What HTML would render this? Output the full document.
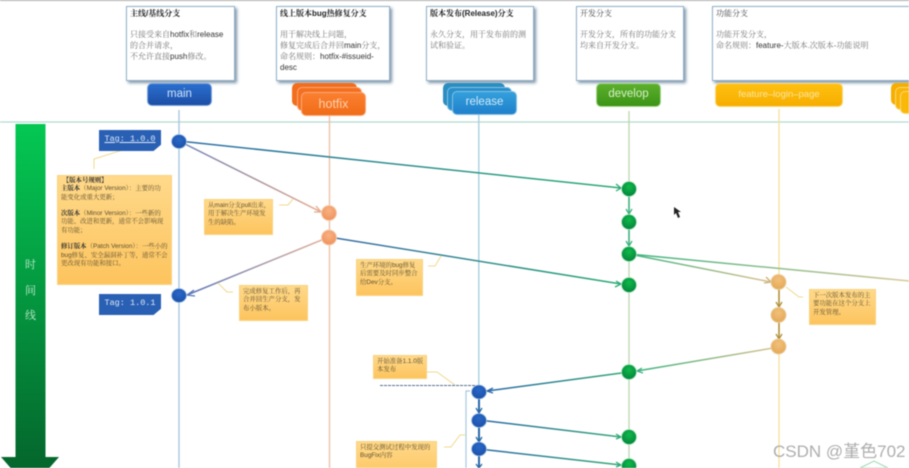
<!DOCTYPE html>
<html><head><meta charset="utf-8">
<style>
html,body{margin:0;padding:0;background:#fff;}
#w{position:relative;width:909px;height:468px;overflow:hidden;background:#fff;font-family:"Liberation Sans","Noto Serif CJK SC",serif;filter:blur(.45px);}
svg{position:absolute;left:0;top:0;}
.box{position:absolute;box-sizing:border-box;top:6px;height:75px;background:#fff;border:1px solid #8fb0c8;box-shadow:2px 2px 3px #7f95a8;padding:2px 3px;font-size:8px;line-height:10.7px;color:#777;white-space:nowrap;overflow:hidden;}
.box b{color:#222;font-weight:700;}
.box span{color:#333;font-family:"Liberation Sans",sans-serif;}
.note{position:absolute;box-sizing:border-box;background:linear-gradient(#ffd98a,#fdc45e);border:1px solid #fbd27e;font-size:6.4px;line-height:8.3px;color:#5f5030;padding:2px 3px;white-space:nowrap;overflow:hidden;}
.note i{font-style:normal;font-family:"Liberation Sans",sans-serif;}
.btn{position:absolute;box-sizing:border-box;border-radius:5px;text-align:center;font-family:"Liberation Sans",sans-serif;}
.tag{position:absolute;left:99px;width:62px;height:21px;background:#2a60b4;color:#dfe9f8;font:8.5px/19px "Liberation Mono",monospace;text-align:center;clip-path:polygon(0 0,100% 0,100% 70%,88% 100%,0 100%);}
.t{position:absolute;left:15px;width:31px;text-align:center;color:#bfeccd;font-size:11px;line-height:12px;}
</style></head><body><div id="w">
<div style="position:absolute;left:0;top:0;width:909px;height:1px;background:#aaa"></div>
<svg width="909" height="468" viewBox="0 0 909 468">
<defs>
<linearGradient id="tl" x1="0" y1="0" x2="0" y2="1"><stop offset="0" stop-color="#04c853"/><stop offset="1" stop-color="#04602a"/></linearGradient>
<radialGradient id="gn" cx=".5" cy=".35" r=".7"><stop offset="0" stop-color="#0fb94a"/><stop offset="1" stop-color="#03803a"/></radialGradient>
<radialGradient id="bl" cx=".5" cy=".35" r=".7"><stop offset="0" stop-color="#2a68c8"/><stop offset="1" stop-color="#1a4fa6"/></radialGradient>
<radialGradient id="or" cx=".5" cy=".35" r=".7"><stop offset="0" stop-color="#f9b183"/><stop offset="1" stop-color="#ee8f58"/></radialGradient>
<radialGradient id="ye" cx=".5" cy=".35" r=".7"><stop offset="0" stop-color="#f2c07a"/><stop offset="1" stop-color="#e3a653"/></radialGradient>
<linearGradient id="c1" gradientUnits="userSpaceOnUse" x1="179" y1="141" x2="621" y2="188"><stop offset="0" stop-color="#2f6fa8"/><stop offset="1" stop-color="#2cab75"/></linearGradient>
<linearGradient id="c2" gradientUnits="userSpaceOnUse" x1="179" y1="141" x2="321" y2="212"><stop offset="0" stop-color="#6a82b8"/><stop offset="1" stop-color="#e5a98c"/></linearGradient>
<linearGradient id="c3" gradientUnits="userSpaceOnUse" x1="329" y1="237" x2="187" y2="295"><stop offset="0" stop-color="#e8b59c"/><stop offset="1" stop-color="#5a78b8"/></linearGradient>
<linearGradient id="c4" gradientUnits="userSpaceOnUse" x1="329" y1="237" x2="621" y2="284"><stop offset="0" stop-color="#3a6ca8"/><stop offset="1" stop-color="#2cab75"/></linearGradient>
<linearGradient id="c5" gradientUnits="userSpaceOnUse" x1="629" y1="254" x2="771" y2="282"><stop offset="0" stop-color="#3cb37f"/><stop offset="1" stop-color="#dcc28f"/></linearGradient>
<linearGradient id="c6" gradientUnits="userSpaceOnUse" x1="629" y1="254" x2="909" y2="281"><stop offset="0" stop-color="#3cb37f"/><stop offset="1" stop-color="#d9c99a"/></linearGradient>
<linearGradient id="c7" gradientUnits="userSpaceOnUse" x1="779" y1="347" x2="637" y2="371"><stop offset="0" stop-color="#dcc28f"/><stop offset="1" stop-color="#3cb37f"/></linearGradient>
<linearGradient id="c8" gradientUnits="userSpaceOnUse" x1="629" y1="372" x2="487" y2="391"><stop offset="0" stop-color="#34a878"/><stop offset="1" stop-color="#2a68a8"/></linearGradient>
<linearGradient id="c9" gradientUnits="userSpaceOnUse" x1="479" y1="420" x2="621" y2="437"><stop offset="0" stop-color="#2a68a8"/><stop offset="1" stop-color="#34a878"/></linearGradient>
</defs>
<line x1="0" y1="122" x2="909" y2="122" stroke="#b4d8d0" stroke-width="1.2"/>
<!-- vertical lanes -->
<line x1="179" y1="110" x2="179" y2="468" stroke="#a9c8de" stroke-width="1.4"/>
<line x1="329.5" y1="115" x2="329.5" y2="468" stroke="#ebc2aa" stroke-width="1.4"/>
<line x1="478.8" y1="114" x2="478.8" y2="392" stroke="#a9cfe2" stroke-width="1.4"/>
<line x1="629" y1="111" x2="629" y2="468" stroke="#bcd8b4" stroke-width="1.4"/>
<line x1="779" y1="109" x2="779" y2="468" stroke="#f5e3a0" stroke-width="1.4"/>
<!-- timeline arrow -->
<polygon points="15.5,124 45.5,124 45.5,457 59,457 30,490 1,457 15.5,457" fill="url(#tl)"/>
<!-- connectors -->
<g fill="none" stroke-width="1.5">
<line x1="179" y1="141" x2="621" y2="188" stroke="url(#c1)"/>
<line x1="179" y1="141" x2="321" y2="212" stroke="url(#c2)"/>
<line x1="329" y1="237" x2="187" y2="295" stroke="url(#c3)"/>
<line x1="329" y1="237" x2="621" y2="284" stroke="url(#c4)"/>
<line x1="629" y1="254" x2="771" y2="282" stroke="url(#c5)"/>
<line x1="629" y1="254" x2="909" y2="281" stroke="url(#c6)"/>
<line x1="779" y1="347" x2="637" y2="371" stroke="url(#c7)"/>
<line x1="629" y1="372" x2="487" y2="391" stroke="url(#c8)"/>
<line x1="479" y1="420" x2="621" y2="437" stroke="url(#c9)"/>
<line x1="479" y1="449" x2="621" y2="465" stroke="url(#c9)"/>
<line x1="629" y1="189" x2="629" y2="254" stroke="#3cb37f"/>
<line x1="779" y1="282" x2="779" y2="347" stroke="#b08d3a"/>
<line x1="479" y1="392" x2="479" y2="468" stroke="#2a6aa8" stroke-width="2"/>
</g>
<!-- arrowheads -->
<g fill="none" stroke-width="1.3">
<polyline points="616,184 621,188 616,191" stroke="#2cab75"/>
<polyline points="316,206 321,212 314,212" stroke="#e5a98c"/>
<polyline points="194,290 187,295 195,296" stroke="#5a78b8"/>
<polyline points="616,281 621,284 615,287" stroke="#2cab75"/>
<polyline points="766,277 771,282 764,283" stroke="#c8b078"/>
<polyline points="642,368 637,371 643,373" stroke="#3cb37f"/>
<polyline points="493,388 487,391 493,393" stroke="#2a68a8"/>
<polyline points="616,434 621,437 616,439" stroke="#34a878"/>
<polyline points="616,462 621,465 616,467" stroke="#34a878"/>
<polyline points="626,209 629,214 632,209" stroke="#3cb37f"/>
<polyline points="626,241 629,246 632,241" stroke="#3cb37f"/>
<polyline points="776,302 779,307 782,302" stroke="#b08d3a"/>
<polyline points="776,334 779,339 782,334" stroke="#b08d3a"/>
<polyline points="476,408 479,413 482,408" stroke="#2a6aa8"/>
<polyline points="476,437 479,442 482,437" stroke="#2a6aa8"/>
<polyline points="476,464 479,468 482,464" stroke="#2a6aa8"/>
</g>
<!-- callouts -->
<g fill="none" stroke="#f0d98f" stroke-width="1">
<polyline points="142,144 94,159 94,169"/>
<polyline points="279,205 288,205 293,199"/>
<polyline points="218,283 227,292 233,292"/>
<polyline points="428,266 435,266 441,256"/>
<polyline points="427,372 437,372 455,385"/>
<polyline points="786,287 799,297 803,297"/>
<polyline points="444,447 451,447 460,435 465,435"/>
</g>
<line x1="380" y1="385.5" x2="475" y2="385.5" stroke="#54708c" stroke-width="1" stroke-dasharray="3 1"/>
<polyline points="470,391 466,391 466,468" fill="none" stroke="#a9c8de" stroke-width="1.2"/>
<!-- nodes -->
<g fill="url(#bl)" stroke="#a8c4e4" stroke-width=".8">
<ellipse cx="179" cy="141.5" rx="7.5" ry="7"/><ellipse cx="179" cy="295.5" rx="7.5" ry="7"/>
<ellipse cx="479" cy="392" rx="7.5" ry="7"/><ellipse cx="479" cy="420.5" rx="7.5" ry="7"/><ellipse cx="479" cy="449" rx="7.5" ry="7"/>
</g>
<g fill="url(#or)" stroke="#f6cdb0" stroke-width="1">
<circle cx="329" cy="213" r="7.5"/><circle cx="329" cy="237.5" r="7.5"/>
</g>
<g fill="url(#gn)" stroke="#b4e6c4" stroke-width=".8">
<circle cx="629" cy="189" r="7.5"/><circle cx="629" cy="222" r="7.5"/><circle cx="629" cy="254" r="7.5"/><circle cx="629" cy="285" r="7.5"/><circle cx="629" cy="372" r="7.5"/><circle cx="629" cy="437" r="7.5"/><circle cx="629" cy="466" r="7.5"/>
</g>
<g fill="url(#ye)" stroke="#e8cfa0" stroke-width="1">
<circle cx="778.5" cy="282" r="7.5"/><circle cx="778.5" cy="315" r="7.5"/><circle cx="778.5" cy="346.5" r="7.5"/>
</g>
<!-- cursor -->
<polygon points="674,207 674,215 676,213 678,218 680,217 678,212 681,212" fill="#222"/>
<!-- right edge diamond -->
<polygon points="860,468 874,461 888,468" fill="none" stroke="#9fd8b4" stroke-width="1"/>
</svg>

<div class="t" style="top:259px">时</div>
<div class="t" style="top:285px">间</div>
<div class="t" style="top:310px">线</div>

<div class="box" style="left:126px;width:109px"><b>主线/基线分支</b><br><br>只接受来自<span>hotfix</span>和<span>release</span><br>的合并请求，<br>不允许直接<span>push</span>修改。</div>
<div class="box" style="left:276px;width:114px"><b>线上版本bug热修复分支</b><br><br>用于解决线上问题，<br>修复完成后合并回<span>main</span>分支，<br>命名规则：<span>hotfix-#issueid-</span><br><span>desc</span></div>
<div class="box" style="left:426px;width:108px"><b>版本发布(Release)分支</b><br><br>永久分支，用于发布前的测<br>试和验证。</div>
<div class="box" style="left:576px;width:108px"><b style="font-weight:400;color:#444">开发分支</b><br><br>开发分支，所有的功能分支<br>均来自开发分支。</div>
<div class="box" style="left:712px;width:220px"><b style="font-weight:400;color:#444">功能分支</b><br><br>功能开发分支，<br>命名规则：<span>feature-</span>大版本.次版本-功能说明</div>

<div class="btn" style="left:147px;top:83px;width:65px;height:23px;background:linear-gradient(#2a6fd0,#1c4ea6);border:1px solid #7ea6dc;color:#cfe2f8;font-size:11.5px;line-height:20px">main</div>

<div class="btn" style="left:292px;top:83px;width:65px;height:23px;background:#f26d1c"></div>
<div class="btn" style="left:297px;top:87px;width:65px;height:24px;background:#f47020;border:1px solid #f9a878"></div>
<div class="btn" style="left:301px;top:92px;width:65px;height:24px;background:linear-gradient(#fb8030,#f06c18);border:1px solid #f9a878;color:#fbd0ac;font-size:12.5px;line-height:22px">hotfix</div>

<div class="btn" style="left:443px;top:83px;width:62px;height:23px;background:#2a8ec0"></div>
<div class="btn" style="left:447px;top:87px;width:65px;height:24px;background:#2a90cc;border:1px solid #84c0e4"></div>
<div class="btn" style="left:452px;top:91px;width:65px;height:24px;background:linear-gradient(#34a0dc,#2080cc);border:1px solid #84c0e4;color:#cfeaf8;font-size:11.5px;line-height:21px">release</div>

<div class="btn" style="left:596px;top:83px;width:65px;height:24px;background:linear-gradient(#5cb02c,#3c9416);border:1px solid #a8d890;color:#d8f0c8;font-size:11.5px;line-height:21px">develop</div>

<div class="btn" style="left:715px;top:83px;width:128px;height:24px;background:linear-gradient(#ffc010,#f6ae00);border:1px solid #fbd878;color:#fce6a0;font-size:9.5px;line-height:22px">feature–login–page</div>

<div class="btn" style="left:891px;top:83px;width:40px;height:22px;background:#f6ae00"></div>
<div class="btn" style="left:895px;top:87px;width:40px;height:23px;background:#f8b408;border:1px solid #fbd878"></div>
<div class="btn" style="left:900px;top:91px;width:40px;height:23px;background:#fab808;border:1px solid #fbd878"></div>

<div class="tag" style="top:130px"><span style="text-decoration:underline">Tag: 1.0.0</span></div>
<div class="tag" style="top:294px">Tag: 1.0.1</div>

<div class="note" style="left:57px;top:175px;width:115px;height:110px;padding:1px 3px 0 3px"><b style="color:#333">&nbsp;【版本号规则】</b><br><b style="color:#333">主版本</b>（<i>Major Version</i>）：主要的功<br>能变化或重大更新；<br><br><b style="color:#333">次版本</b>（<i>Minor Version</i>）：一些新的<br>功能、改进和更新，通常不会影响现<br>有功能；<br><br><b style="color:#333">修订版本</b>（<i>Patch Version</i>）：一些小的<br><i>bug</i>修复、安全漏洞补丁等，通常不会<br>更改现有功能和接口。</div>

<div class="note" style="left:204px;top:199px;width:69px;height:36px">从<i>main</i>分支<i>pull</i>出来，<br>用于解决生产环境发<br>生的缺陷。</div>
<div class="note" style="left:239px;top:285px;width:69px;height:36px">完成修复工作后，再<br>合并回生产分支，发<br>布小版本。</div>
<div class="note" style="left:356px;top:259px;width:67px;height:37px">生产环境的<i>bug</i>修复<br>后需要及时同步整合<br>给<i>Dev</i>分支。</div>
<div class="note" style="left:373px;top:355px;width:54px;height:24px">开始准备<i>1.1.0</i>版<br>本发布</div>
<div class="note" style="left:356px;top:441px;width:81px;height:40px">只提交测试过程中发现的<br><i>BugFix</i>内容</div>
<div class="note" style="left:809px;top:289px;width:67px;height:36px">下一次版本发布的主<br>要功能在这个分支上<br>开发管理。</div>

<div style="position:absolute;left:773px;top:442px;width:135px;font:17px/20px 'Liberation Sans','Noto Sans CJK SC',sans-serif;color:#aaaaaa;white-space:nowrap;opacity:.95">CSDN @堇色702</div>
</div></body></html>
